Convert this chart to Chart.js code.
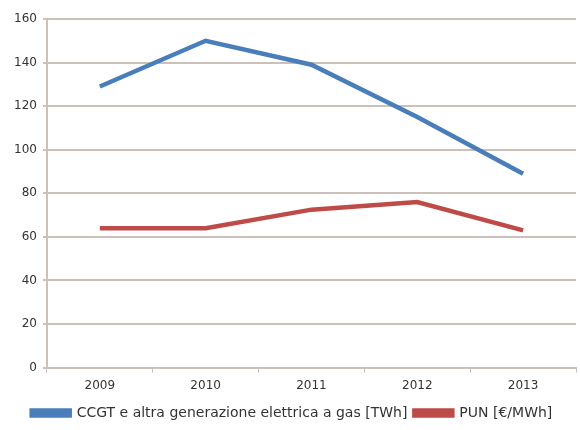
<!DOCTYPE html>
<html>
<head>
<meta charset="utf-8">
<script src="https://cdn.jsdelivr.net/npm/chart.js@4.4.0/dist/chart.umd.min.js"></script>
<style>
  html, body { margin: 0; padding: 0; background: #ffffff; }
  #wrap { width: 580px; height: 430px; }
</style>
</head>
<body>
<div id="wrap"><canvas id="linechart" width="580" height="430"></canvas></div>
<script>
// anni e valori
var anni = ['2009', '2010', '2011', '2012', '2013'];
var ccgt = [129, 150, 139, 115, 89];
var pun = [64, 64, 72.5, 76, 63];
var yTicks = [0, 20, 40, 60, 80, 100, 120, 140, 160];

var gridColor = '#cbc1ba';
var textColor = '#333333';
var fontFam = '"DejaVu Sans", sans-serif';

var ctx = document.getElementById('linechart');
var chart = new Chart(ctx, {
    type: 'line',
    data: {
        labels: anni,
        datasets: [{
            label: 'CCGT e altra generazione elettrica a gas [TWh]',
            data: ccgt,
            borderColor: '#4a7ebb',
            backgroundColor: '#4a7ebb',
            borderWidth: 4.5,
            pointRadius: 0,
            tension: 0,
            fill: false
        }, {
            label: 'PUN [€/MWh]',
            data: pun,
            borderColor: '#be4b48',
            backgroundColor: '#be4b48',
            borderWidth: 4.5,
            pointRadius: 0,
            tension: 0,
            fill: false
        }]
    },
    options: {
        responsive: false,
        animation: false,
        layout: { padding: { left: 8, right: 4, top: 19, bottom: 0 } },
        plugins: {
            tooltip: { enabled: false },
            legend: {
                position: 'bottom',
                labels: {
                    boxWidth: 38,
                    boxHeight: 5,
                    padding: 7,
                    color: textColor,
                    font: { family: fontFam, size: 14 }
                }
            }
        },
        scales: {
            x: {
                offset: true,
                grid: {
                    offset: true,
                    drawOnChartArea: false,
                    drawTicks: true,
                    tickLength: 5,
                    color: gridColor
                },
                border: { color: gridColor, width: 2 },
                ticks: {
                    color: textColor,
                    padding: 6,
                    font: { family: fontFam, size: 12 }
                }
            },
            y: {
                min: 0,
                max: 160,
                afterBuildTicks: function(axis) {
                    axis.ticks = yTicks.map(function(v) { return { value: v }; });
                },
                grid: {
                    color: gridColor,
                    lineWidth: 2,
                    tickLength: 4
                },
                border: { color: gridColor, width: 2 },
                ticks: {
                    color: textColor,
                    padding: 6,
                    font: { family: fontFam, size: 12 }
                }
            }
        }
    }
});
</script>
</body>
</html>
